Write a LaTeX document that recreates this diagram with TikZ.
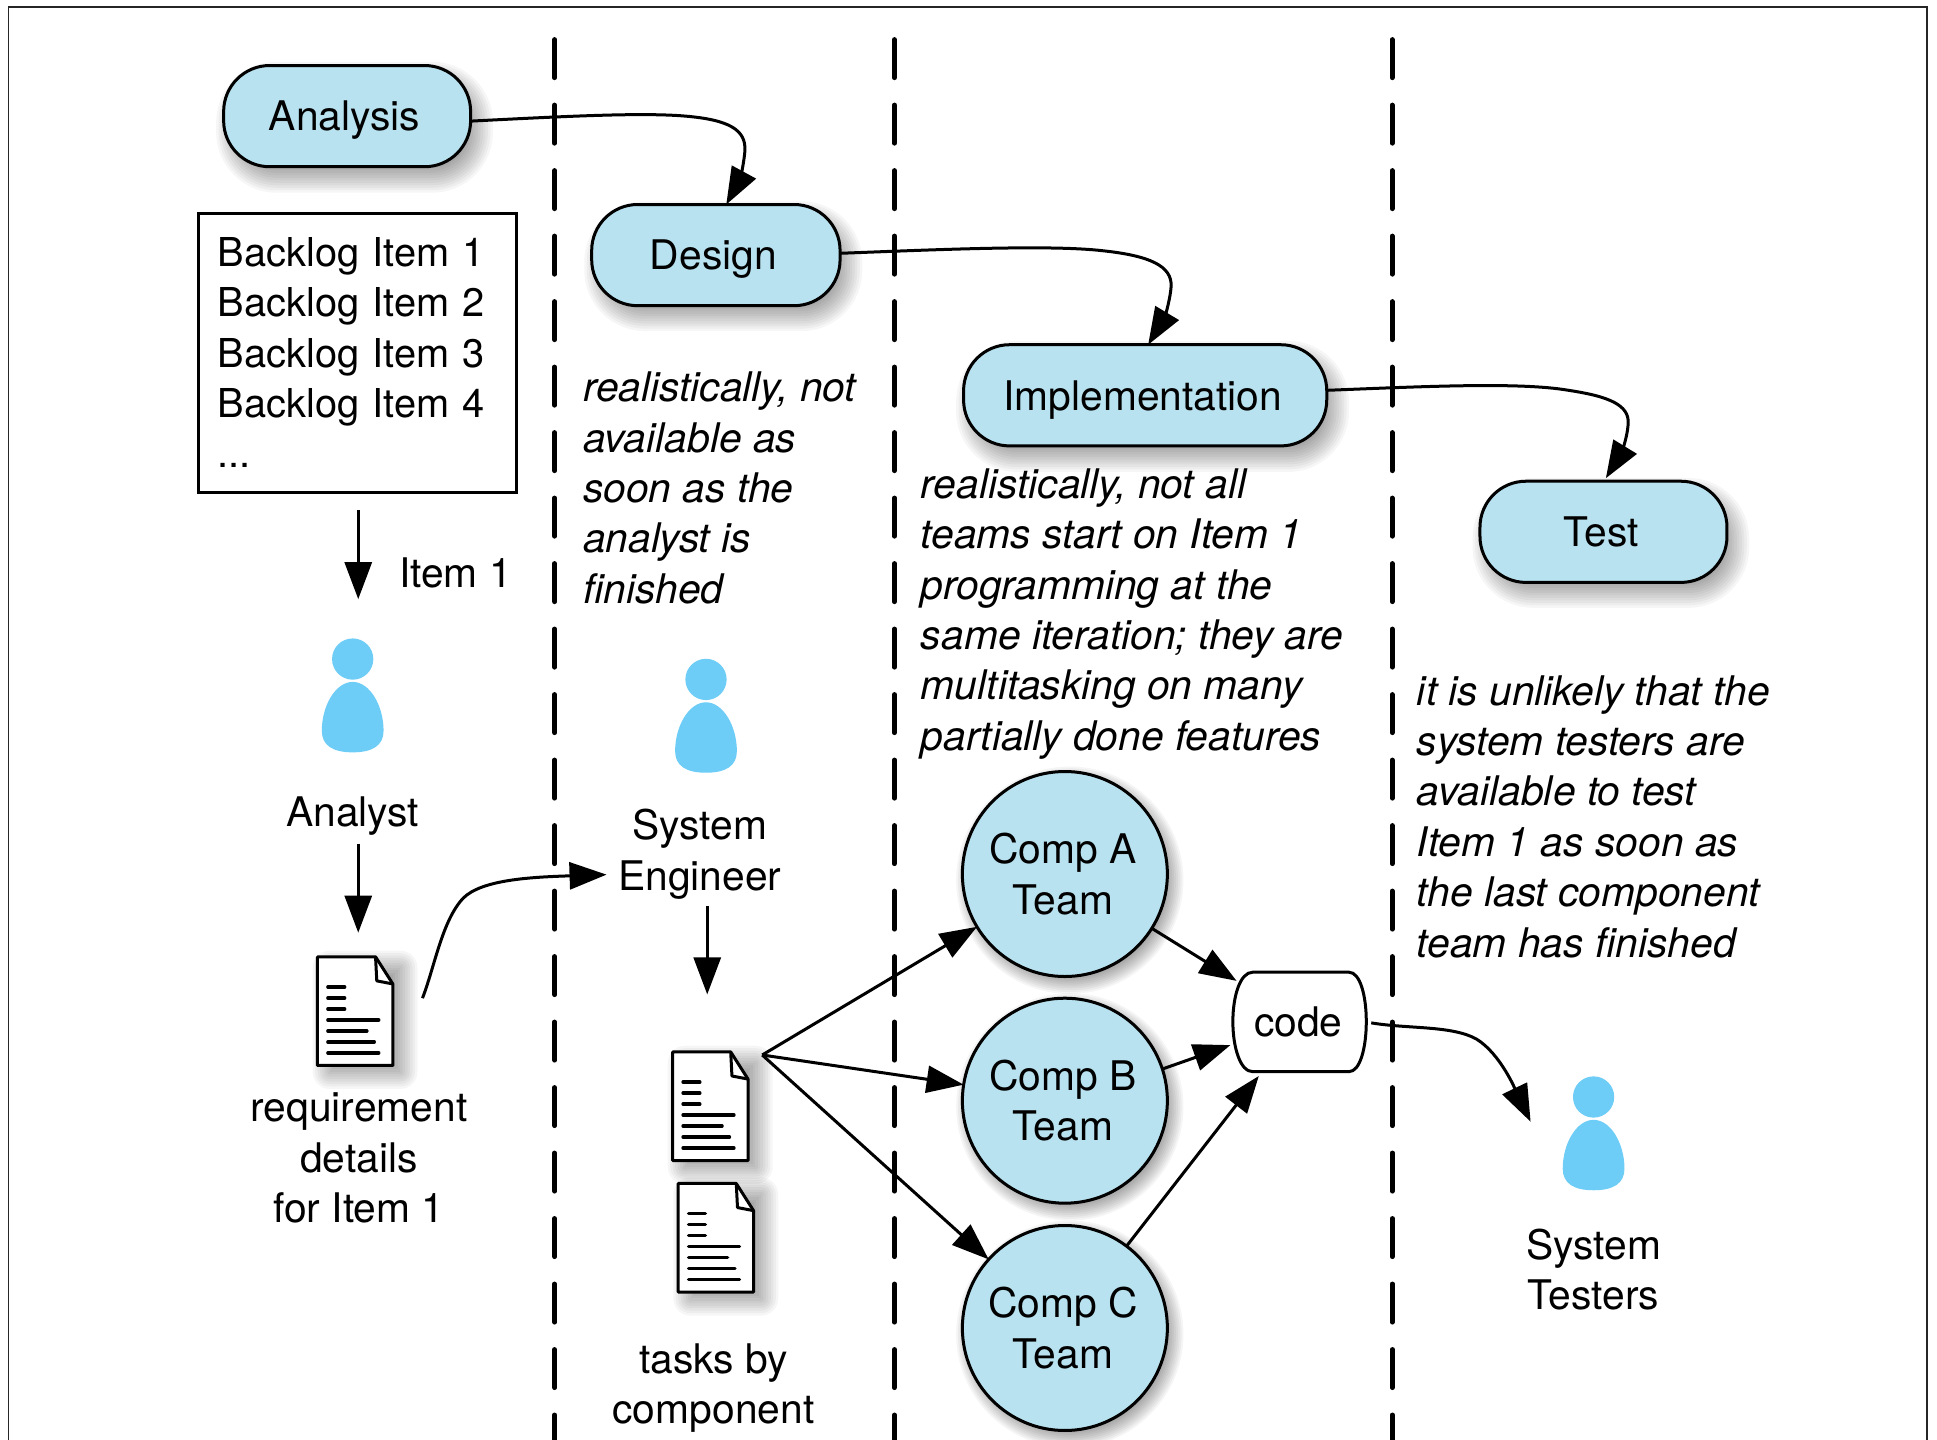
\documentclass[tikz,border=0pt]{standalone}
\usepackage{fontspec}
\setmainfont{TeX Gyre Heros}
\usetikzlibrary{arrows.meta,shapes.geometric}
\definecolor{boxblue}{HTML}{B8E2EF}
\definecolor{personblue}{HTML}{6DCDF7}
\newcommand{\softbox}[7]{%
  \foreach \d in {-8,-6,-4,-2,0,2,4,6,8,10,12}{%
    \pgfmathsetmacro{\rr}{max(0,(#5+\d)*0.6177)}%
    \fill[black,opacity=.036,rounded corners=\rr pt] ({#1+#6-\d},{#2+#7-\d}) rectangle ({#3+#6+\d},{#4+#7+\d});
  }}
\newcommand{\softdisc}[2]{%
  \foreach \d in {-6,-4.5,-3,-1.5,0,1.5,3,4.5,6,7.5,9}{%
    \fill[black,opacity=.04] ({#1+4},{#2+5}) circle [radius={83+\d}];
  }}
\newcommand{\stagetext}[1]{\raisebox{-7.35pt}[0pt][0pt]{#1}\hspace*{2.5pt}}
\tikzset{
  x=0.6177pt,y=-0.6177pt,
  every node/.style={font=\fontsize{20.4}{25.2}\selectfont,inner sep=0pt,outer sep=0pt},
  stage/.style={draw=black,line width=1.5pt,fill=boxblue,rounded corners=23pt,minimum height=50.6pt},
  team/.style={circle,draw=black,line width=1.5pt,fill=boxblue,minimum size=102.5pt,align=center},
  conn/.style={draw=black,line width=1.5pt,line join=miter,-{Triangle[length=18.5pt,width=13.5pt]}},
  divider/.style={draw=black,line width=2.4pt,line cap=round,dash pattern=on 19.1pt off 13.65pt},
  lab/.style={align=center},
  note/.style={align=left,font=\fontsize{20.4}{25.2}\itshape\selectfont,anchor=west},
  person/.pic={
    \fill[personblue] (0,0) ellipse [x radius=16.7,y radius=16.7];
    \fill[personblue] (0,18.5) .. controls (14,18.5) and (25,38) .. (25,58) .. controls (25,70) and (16,75.5) .. (0,75.5) .. controls (-16,75.5) and (-25,70) .. (-25,58) .. controls (-25,38) and (-14,18.5) .. (0,18.5) -- cycle;
  },
  docicon/.pic={
    \softbox{0}{0}{61}{88}{2}{8}{7}
    \draw[line width=1.5pt,line join=round,fill=white] (0,0) -- (47,0) -- (61,22) -- (61,88) -- (0,88) -- cycle;
    \draw[line width=1.5pt,line join=round] (47,0) -- (48,19.5) -- (61,22);
    \draw[line width=1.7pt,line cap=round] (8.4,24.4) -- (22,24.4) (8.4,33.3) -- (22,33.3) (8.4,42.2) -- (22,42.2)
      (8.4,51.1) -- (49.6,51.1) (8.4,60) -- (40,60) (8.4,68.9) -- (46,68.9) (8.4,77.8) -- (49.6,77.8);
  },
}
\begin{document}
\begin{tikzpicture}
\clip (0,0) rectangle (1568,1165);
\fill[white] (0,0) rectangle (1568,1165);
% frame
\draw[line width=0.8pt,draw=black!85] (7,1175) -- (7,5.5) -- (1560,5.5) -- (1560,1175);
% dividers
\coordinate (d1t) at (449,32); \coordinate (d1b) at (449,1190);
\coordinate (d2t) at (724,32); \coordinate (d2b) at (724,1190);
\coordinate (d3t) at (1127,32); \coordinate (d3b) at (1127,1190);
\draw[divider] (d1t) -- (d1b);
\draw[divider] (d2t) -- (d2b);
\draw[divider] (d3t) -- (d3b);
% stages
\softbox{181}{53}{381}{135}{37}{6}{9}
\node[stage,minimum width=123.5pt] (analysis) at (281,94) {\stagetext{Analysis}};
\softbox{479}{166}{680}{247}{37}{6}{9}
\node[stage,minimum width=124.2pt] (design) at (579.5,206.5) {\stagetext{Design}};
\softbox{780}{279}{1074}{361}{37}{6}{9}
\node[stage,minimum width=181.6pt] (impl) at (927,320) {\stagetext{Implementation}};
\softbox{1198}{390}{1398}{471}{37}{6}{9}
\node[stage,minimum width=123.5pt] (test) at (1298,430.5) {\stagetext{Test}};
% backlog
\node[draw=black,line width=1.5pt,minimum width=158.7pt,minimum height=139.6pt,text width=140pt,align=left,font=\fontsize{19.9}{25.2}\selectfont] (backlog) at (289.5,285.5)
  {Backlog Item 1\\Backlog Item 2\\Backlog Item 3\\Backlog Item 4\\...};
\node[anchor=west] (item) at (323,463.5) {Item 1};
% people
\pic (analystfig) at (285.5,533.5) {person};
\pic (engineerfig) at (571.5,550) {person};
\pic (testerfig) at (1290,888) {person};
\node[lab] (analyst) at (285.5,660.5) {Analyst};
\node[lab] (engineer) at (566.5,691.5) {System\\Engineer};
\node[lab] (testers) at (1290,1027.5) {System\\Testers};
% documents
\pic (reqdoc) at (257,774.5) {docicon};
\pic (taskdoca) at (544.5,851.5) {docicon};
\pic (taskdocb) at (549,958) {docicon};
\node[lab] (reqlabel) at (290.5,937.5) {requirement\\details\\for Item 1};
\node[lab] (tasklabel) at (577.5,1123.5) {tasks by\\component};
% notes
\node[note] (note1) at (472,395) {realistically, not\\available as\\soon as the\\analyst is\\finished};
\node[note] (note2) at (745.5,497) {realistically, not all\\teams start on Item 1\\programming at the\\same iteration; they are\\multitasking on many\\partially done features};
\node[note] (note3) at (1147,661) {it is unlikely that the\\system testers are\\available to test\\Item 1 as soon as\\the last component\\team has finished};
% teams
\softdisc{862}{707.5}
\node[team] (compA) at (862,707.5) {Comp A\hspace*{1.9pt}\\Team\hspace*{1.9pt}};
\softdisc{862}{891}
\node[team] (compB) at (862,891) {Comp B\hspace*{1.9pt}\\Team\hspace*{1.9pt}};
\softdisc{862}{1075}
\node[team] (compC) at (862,1075) {Comp C\hspace*{1.9pt}\\Team\hspace*{1.9pt}};
% code
\node[minimum width=66.1pt,minimum height=49.4pt] (code) at (1052,827) {};
\draw[line width=1.5pt,fill=white] (1014,787) -- (1092,787) .. controls (1101,787) and (1106,806) .. (1106,827) .. controls (1106,848) and (1101,867.5) .. (1092,867.5) -- (1014,867.5) .. controls (1004,867.5) and (998,848) .. (998,827) .. controls (998,806) and (1004,787) .. (1014,787) -- cycle;
\node (codetext) at (1051,827.5) {code};
% free connector ends
\coordinate (itemS) at (290,413); \coordinate (itemE) at (290,485);
\coordinate (reqS) at (290,683); \coordinate (reqE) at (290,755);
\coordinate (sendS) at (342,808); \coordinate (sendE) at (491,708);
\coordinate (engS) at (572.5,733); \coordinate (engE) at (572.5,805);
\coordinate (fan) at (617,854);
\coordinate (inA) at (1001,794); \coordinate (inB) at (996,846); \coordinate (inC) at (1019,871);
\coordinate (outS) at (1110,828); \coordinate (outE) at (1239,908);
% flow connectors
\draw[conn] ([yshift=-2.5pt]analysis.east) .. controls (460,94) and (520,91) .. (555,94) .. controls (590,97) and (604,105) .. (603,122) .. controls (602,135) and (598,147) .. ([xshift=5.2pt]design.north);
\draw[conn] ([yshift=0.9pt]design.east) .. controls (760,202) and (850,198) .. (893,203) .. controls (930,207) and (949,215) .. (948,232) .. controls (947,245) and (942,258) .. ([xshift=1.5pt]impl.north);
\draw[conn] ([yshift=2.5pt]impl.east) .. controls (1150,313) and (1230,309) .. (1270,316) .. controls (1303,321) and (1319,328) .. (1318,343) .. controls (1317,357) and (1311,369) .. ([xshift=1.2pt,yshift=1.5pt]test.north);
\draw[conn] (itemS) -- (itemE);
\draw[conn] (reqS) -- (reqE);
\draw[conn] (engS) -- (engE);
\draw[conn] (sendS) .. controls (352,782) and (358,745) .. (375,727) .. controls (390,712) and (430,710) .. (sendE);
\draw[conn] (fan) -- (compA.211);
\draw[conn] (fan) -- (compB.171);
\draw[conn] (fan) -- (compC.138);
\draw[conn] (compA.-32) -- (inA);
\draw[conn] (compB.18) -- (inB);
\draw[conn] (compC.53) -- (inC);
\draw[conn] (outS) .. controls (1140,833) and (1175,830) .. (1195,841) .. controls (1215,853) and (1228,885) .. (outE);
\end{tikzpicture}
\end{document}
